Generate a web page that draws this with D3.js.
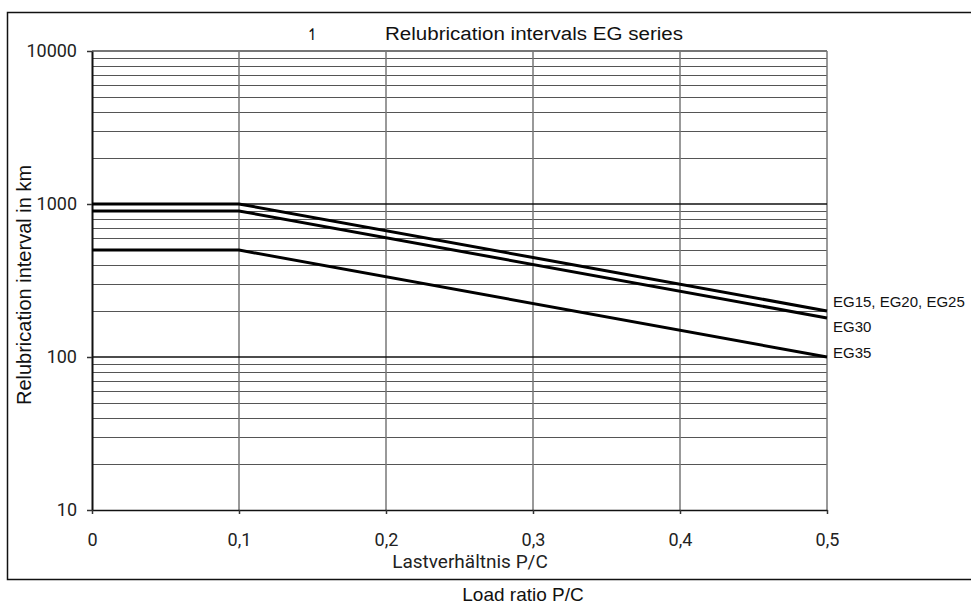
<!DOCTYPE html>
<html>
<head>
<meta charset="utf-8">
<script src="https://cdn.jsdelivr.net/npm/d3@7/dist/d3.min.js"></script>
<style>
  html, body { margin: 0; padding: 0; background: #fff; }
  svg { display: block; }
</style>
</head>
<body>
<svg id="chart" width="971" height="606"></svg>
<script>
// ---- data ----
const loadRatio = [0, 0.1, 0.5];
const eg15_20_25 = [1000, 1000, 200];
const eg30 = [900, 900, 180];
const eg35 = [500, 500, 100];
const seriesNames = ["EG15, EG20, EG25", "EG30", "EG35"];
const xTicks = [0, 0.1, 0.2, 0.3, 0.4, 0.5];
const xTickLabels = ["0", "0,1", "0,2", "0,3", "0,4", "0,5"];
const yTicks = [10, 100, 1000, 10000];
const yTickLabels = ["10", "100", "1000", "10000"];
const titleText = "Relubrication intervals EG series";
const yTitle = "Relubrication interval in km";
const xTitleDe = "Lastverhältnis P/C";
const xTitleEn = "Load ratio P/C";

(function () {
const svg = d3.select("#chart");
const pLeft = 92, pRight = 827, pTop = 51, pBottom = 510;
const x = d3.scaleLinear().domain([0, 0.5]).range([pLeft, pRight]);
const y = d3.scaleLog().domain([10, 10000]).range([pBottom, pTop]);

// outer frame (top, left, bottom)
svg.append("path")
  .attr("d", "M971,12.5 H7.5 V579.5 H971")
  .attr("fill", "none").attr("stroke", "#111").attr("stroke-width", 1.5);

// minor horizontal grid
const minor = [];
[10, 100, 1000].forEach(dec => { for (let k = 2; k <= 9; k++) minor.push(k * dec); });
svg.append("g").selectAll("line").data(minor).join("line")
  .attr("x1", pLeft).attr("x2", pRight)
  .attr("y1", d => Math.round(y(d)) + 0.5).attr("y2", d => Math.round(y(d)) + 0.5)
  .attr("stroke", "#555").attr("stroke-width", 1);

// vertical grid
svg.append("g").selectAll("line").data(xTicks.slice(1)).join("line")
  .attr("x1", d => x(d)).attr("x2", d => x(d))
  .attr("y1", pTop).attr("y2", pBottom)
  .attr("stroke", "#777").attr("stroke-width", 1.5);

// major horizontal grid
svg.append("g").selectAll("line").data([100, 1000]).join("line")
  .attr("x1", pLeft).attr("x2", pRight)
  .attr("y1", d => y(d)).attr("y2", d => y(d))
  .attr("stroke", "#111").attr("stroke-width", 1.5);
svg.append("line").attr("x1", pLeft).attr("x2", pRight)
  .attr("y1", y(10000)).attr("y2", y(10000))
  .attr("stroke", "#777").attr("stroke-width", 2);

// axes
const yAxis = d3.axisLeft(y).tickValues(yTicks)
  .tickFormat((d, i) => yTickLabels[i]).tickSize(5).tickSizeOuter(0).tickPadding(10);
const gy = svg.append("g").attr("transform", `translate(${pLeft},0)`).call(yAxis);
gy.select(".domain").attr("stroke", "#111").attr("stroke-width", 2);
gy.selectAll(".tick line").attr("stroke", "#333").attr("stroke-width", 1.5);
gy.selectAll(".tick text").attr("font-family", "Roboto").attr("font-size", 18).attr("fill", "#222");

const xAxis = d3.axisBottom(x).tickValues(xTicks)
  .tickFormat((d, i) => xTickLabels[i]).tickSize(4).tickSizeOuter(0).tickPadding(19);
const gx = svg.append("g").attr("transform", `translate(0,${pBottom})`).call(xAxis);
gx.select(".domain").attr("stroke", "#111").attr("stroke-width", 1.5);
gx.selectAll(".tick line").attr("stroke", "#333").attr("stroke-width", 1.5);
gx.selectAll(".tick text").attr("font-family", "Roboto").attr("font-size", 18).attr("fill", "#222");

// series lines
const series = [eg15_20_25, eg30, eg35];
const line = d3.line().x((d, i) => x(loadRatio[i])).y(d => y(d));
svg.append("g").selectAll("path").data(series).join("path")
  .attr("d", d => line(d))
  .attr("fill", "none").attr("stroke", "#000").attr("stroke-width", 3)
  .attr("stroke-linejoin", "miter");

// series labels
const labelDy = [-4, 14, 1];
svg.append("g").selectAll("text").data(series).join("text")
  .attr("x", x(0.5) + 6)
  .attr("y", (d, i) => y(d[d.length - 1]) + labelDy[i])
  .attr("font-family", "Liberation Sans, Arial, sans-serif").attr("font-size", 15)
  .attr("fill", "#111")
  .text((d, i) => seriesNames[i]);

// title
svg.append("text").attr("x", 306).attr("y", 40)
  .attr("font-family", "DejaVu Sans").attr("font-size", 16).attr("fill", "#111").text("↿");
svg.append("text").attr("x", 385).attr("y", 40)
  .attr("font-family", "Liberation Sans, Arial, sans-serif").attr("font-size", 18)
  .attr("textLength", 298).attr("lengthAdjust", "spacingAndGlyphs")
  .attr("fill", "#111").text(titleText);

// y title
svg.append("text").attr("transform", "translate(31,285) rotate(-90)")
  .attr("text-anchor", "middle")
  .attr("font-family", "Liberation Sans, Arial, sans-serif").attr("font-size", 20)
  .attr("fill", "#111").text(yTitle);

// x titles
svg.append("text").attr("x", 470).attr("y", 568).attr("text-anchor", "middle")
  .attr("font-family", "Roboto").attr("font-size", 19).attr("fill", "#222").text(xTitleDe);
svg.append("text").attr("x", 523).attr("y", 601).attr("text-anchor", "middle")
  .attr("font-family", "Liberation Sans, Arial, sans-serif").attr("font-size", 19)
  .attr("fill", "#111").text(xTitleEn);
})();
</script>
</body>
</html>
